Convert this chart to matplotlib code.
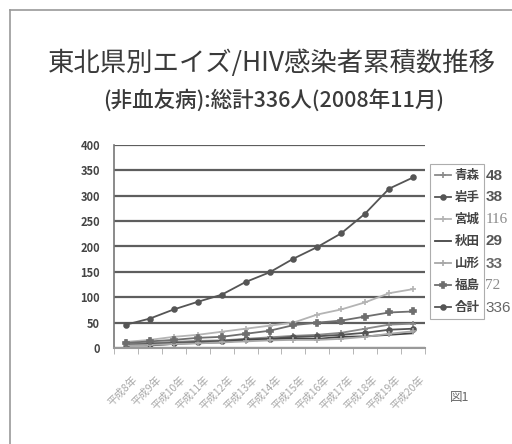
import matplotlib
matplotlib.use("Agg")
import matplotlib.pyplot as plt
from matplotlib.transforms import ScaledTranslation
from matplotlib.lines import Line2D
import numpy as np

plt.rcParams['font.family'] = ['Noto Sans CJK JP', 'DejaVu Sans']

years = ["平成8年", "平成9年", "平成10年", "平成11年", "平成12年", "平成13年", "平成14年",
         "平成15年", "平成16年", "平成17年", "平成18年", "平成19年", "平成20年"]

aomori    = [8, 10, 12, 14, 15, 18, 21, 24, 26, 30, 38, 46, 48]
iwate     = [6, 8, 10, 12, 14, 17, 18, 22, 23, 26, 30, 36, 38]
miyagi    = [12, 16, 22, 26, 32, 38, 44, 50, 66, 76, 90, 108, 116]
akita     = [5, 5, 8, 10, 11, 16, 17, 19, 18, 22, 23, 26, 29]
yamagata  = [5, 6, 8, 9, 11, 13, 15, 16, 16, 18, 22, 28, 33]
fukushima = [10, 13, 16, 20, 22, 28, 34, 45, 50, 54, 62, 70, 72]
total     = [46, 58, 76, 91, 105, 130, 149, 176, 199, 226, 265, 314, 336]

names = ["青森", "岩手", "宮城", "秋田", "山形", "福島", "合計"]
series = [aomori, iwate, miyagi, akita, yamagata, fukushima, total]
colors = ["#8a8a8a", "#555555", "#b4b4b4", "#444444", "#a8a8a8", "#6e6e6e", "#555555"]
markers = ["+", "o", "+", "", "+", "P", "o"]
msizes = [4, 3.5, 4, 0, 4, 4, 3.5]
# value labels next to the legend: some bold sans, some light serif
val_styles = [("bold", "#555555", "sans"), ("bold", "#555555", "sans"), ("normal", "#8a8a8a", "serif"),
              ("bold", "#555555", "sans"), ("bold", "#666666", "sans"), ("normal", "#8a8a8a", "serif"),
              ("normal", "#666666", "sans")]

W, H = 512, 444
fig = plt.figure(figsize=(W / 100, H / 100), dpi=100)
fig.patch.set_facecolor("white")

# outer frame of the page
fig.add_artist(Line2D([10 / W, 10 / W], [0, 1 - 10 / H], color="#9a9a9a", lw=1.2))
fig.add_artist(Line2D([10 / W, 1], [1 - 10 / H, 1 - 10 / H], color="#9a9a9a", lw=1.2))

fig.text(272 / W, 1 - 63 / H, "東北県別エイズ/HIV感染者累積数推移", ha="center", va="center",
         fontsize=19, color="#3a3a3a")
fig.text(274 / W, 1 - 100 / H, "(非血友病):総計336人(2008年11月)", ha="center", va="center",
         fontsize=15.5, fontweight="medium", color="#3a3a3a")

ax = fig.add_axes([114 / W, 1 - 348 / H, 311 / W, 203 / H])
x = np.arange(len(years))
for name, vals, c, m, ms in zip(names, series, colors, markers, msizes):
    ax.plot(x, vals, color=c, lw=1.3, marker=m, markersize=ms, markeredgewidth=1.2,
            label=name)

ax.set_xlim(-0.5, len(years) - 0.5)
ax.set_ylim(0, 400)
ax.set_yticks(np.arange(0, 401, 50))
ax.yaxis.grid(True, color="#5e5e5e", lw=1.6)
ax.set_axisbelow(True)
for s in ["top", "right"]:
    ax.spines[s].set_visible(False)
ax.spines["left"].set_color("#777777")
ax.spines["bottom"].set_color("#999999")
ax.spines["left"].set_linewidth(1.2)
ax.spines["bottom"].set_linewidth(1.5)
ax.tick_params(axis="y", length=0, pad=10, labelsize=8, labelcolor="#444444")
for lab in ax.get_yticklabels():
    lab.set_fontweight("bold")

ax.set_xticks(x)
ax.set_xticks(np.arange(-0.5, len(years)), minor=True)
ax.tick_params(axis="x", which="major", length=0, pad=0)
ax.tick_params(axis="x", which="minor", length=4, color="#aaaaaa", direction="out")
ax.set_xticklabels(years, rotation=45, ha="right", va="center", rotation_mode="anchor",
                   fontsize=7.5, color="#a8a8a8")
offset = ScaledTranslation(10 / 100, -30 / 100, fig.dpi_scale_trans)
for lab in ax.get_xticklabels():
    lab.set_transform(lab.get_transform() + offset)

leg = ax.legend(loc="upper left", bbox_to_anchor=(430 / W, 1 - 164 / H),
                bbox_transform=fig.transFigure, frameon=True, fancybox=False,
                fontsize=9, handlelength=1.3, handletextpad=0.25, labelspacing=0.72,
                borderpad=0.4, borderaxespad=0)
leg.get_frame().set_edgecolor("#999999")
leg.get_frame().set_linewidth(0.8)
for t in leg.get_texts():
    t.set_fontweight("bold")
    t.set_color("#444444")

fig.canvas.draw()
frame_bb = leg.get_frame().get_window_extent()
for t, vals, (fw, col, fam) in zip(leg.get_texts(), series, val_styles):
    bb = t.get_window_extent()
    yc = (bb.y0 + bb.y1) / 2
    fam_list = ["Liberation Serif", "DejaVu Serif"] if fam == "serif" else ["Liberation Sans", "DejaVu Sans"]
    fig.text((frame_bb.x1 + 1) / W, yc / H, str(vals[-1]), ha="left", va="center",
             fontsize=11, fontweight=fw, color=col, family=fam_list)

fig.text(460 / W, 1 - 397 / H, "図1", ha="center", va="center", fontsize=9, color="#666666")

fig.savefig("out.png", dpi=100)
